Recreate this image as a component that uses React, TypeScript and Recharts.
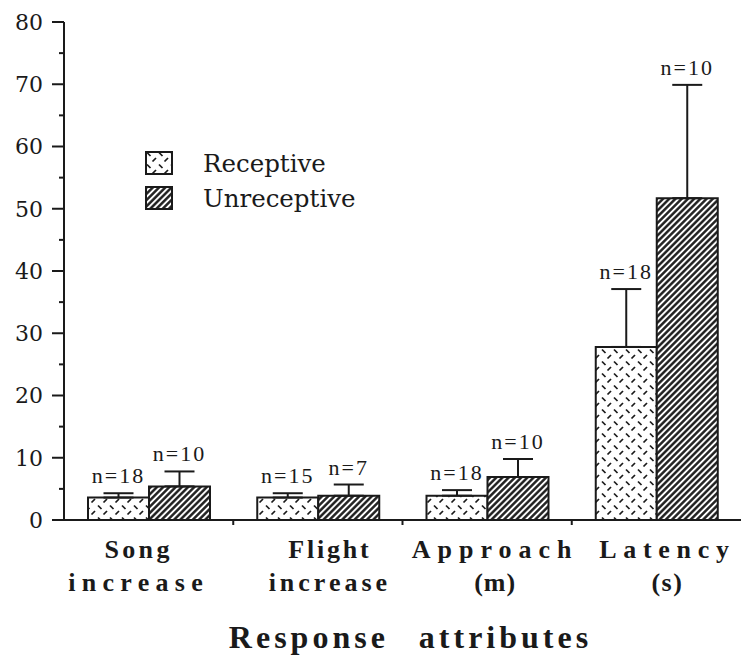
import { BarChart, Bar, XAxis, YAxis, ErrorBar, LabelList, Legend, Label } from 'recharts'

// values (means, upper error, sample size)
const categories = ['Song', 'Flight', 'Approach', 'Latency']
const categorySub = ['increase', 'increase', '(m)', '(s)']
const seriesNames = ['Receptive', 'Unreceptive']
const receptive = [3.6, 3.6, 3.9, 27.8]
const receptiveErr = [0.7, 0.7, 0.9, 9.3]
const receptiveN = [18, 15, 18, 18]
const unreceptive = [5.4, 3.9, 6.9, 51.7]
const unreceptiveErr = [2.4, 1.8, 2.9, 18.2]
const unreceptiveN = [10, 7, 10, 10]
const yTicks = [0, 5, 10, 15, 20, 25, 30, 35, 40, 45, 50, 55, 60, 65, 70, 75, 80]

const data = categories.map((name, i) => ({
  name,
  receptive: receptive[i],
  receptiveErr: [0, receptiveErr[i]],
  receptiveN: receptiveN[i],
  unreceptive: unreceptive[i],
  unreceptiveErr: [0, unreceptiveErr[i]],
  unreceptiveN: unreceptiveN[i],
}))

const INK = '#1a1a1a'
const times = 'Liberation Serif'
const book = 'DejaVu Serif'
const fills = ['url(#dashes)', 'url(#hatch)']

// typesetting quirks of the scanned labels
const line1Spacing = [3.3, 2.8, 7, 6.7]
const line2Spacing = [6.3, 4, 1, 1.5]
const labelDx = [-10, 12, 8, 11]

function YTick({ x, y, payload }: any) {
  const major = payload.value % 10 === 0
  return (
    <g>
      <line x1={x - (major ? 12 : 5)} x2={x} y1={y} y2={y} stroke={INK} strokeWidth={2} />
      {major && (
        <text x={x - 21} y={y} dy="0.36em" textAnchor="end" style={{ fontFamily: book, fontSize: 22 }} fill={INK}>
          {payload.value}
        </text>
      )}
    </g>
  )
}

function XTick({ x, y, payload, index }: any) {
  const band = 677 / categories.length
  const cx = x + labelDx[index]
  return (
    <g>
      {index > 0 && <line x1={x - band / 2} x2={x - band / 2} y1={y} y2={y + 5} stroke={INK} strokeWidth={2} />}
      <text x={cx} y={y + 38} textAnchor="middle" fill={INK}
        style={{ fontFamily: times, fontWeight: 'bold', fontSize: 26, letterSpacing: line1Spacing[index] }}>
        {payload.value}
      </text>
      <text x={cx} y={y + 71} textAnchor="middle" fill={INK}
        style={{ fontFamily: times, fontWeight: 'bold', fontSize: 26, letterSpacing: line2Spacing[index] }}>
        {categorySub[index]}
      </text>
    </g>
  )
}

const nLabel = (vals: number[], errs: number[]) => (p: any) => {
  const { x, y, width, height, value, index } = p
  const capY = y - errs[index] * (height / vals[index])
  return (
    <text x={x + width / 2} y={capY - 10} textAnchor="middle" fill={INK}
      style={{ fontFamily: times, fontSize: 22, letterSpacing: 2 }}>
      n={value}
    </text>
  )
}

const TitleLabel = (p: any) => {
  const { x, y, width } = p.viewBox
  return (
    <text x={x + width / 2 + 8} y={y + 128} textAnchor="middle" fill={INK}
      style={{ fontFamily: times, fontWeight: 'bold', fontSize: 32, letterSpacing: 4, wordSpacing: 18 }}>
      Response attributes
    </text>
  )
}

function LegendBox() {
  return (
    <div style={{ display: 'flex', flexDirection: 'column', gap: 11 }}>
      {seriesNames.map((n, i) => (
        <div key={n} style={{ display: 'flex', alignItems: 'center', height: 24 }}>
          <svg width={28} height={24}>
            <rect x={1} y={1} width={26} height={22} fill={fills[i]} stroke={INK} strokeWidth={2} />
          </svg>
          <span style={{ marginLeft: 30, fontFamily: book, fontSize: 24.5, color: INK }}>{n}</span>
        </div>
      ))}
    </div>
  )
}

export default function App() {
  return (
    <div style={{ position: 'absolute', left: 0, top: 0, width: 741, height: 659, background: '#fff' }}>
      <svg width={0} height={0} style={{ position: 'absolute' }}>
        <defs>
          <pattern id="hatch" patternUnits="userSpaceOnUse" width={4.4} height={4.4} patternTransform="rotate(45)">
            <rect width={4.4} height={4.4} fill="#fff" />
            <line x1={2.2} y1={0} x2={2.2} y2={4.4} stroke={INK} strokeWidth={2.4} />
          </pattern>
          <pattern id="dashes" patternUnits="userSpaceOnUse" width={12} height={12}>
            <rect width={12} height={12} fill="#fff" />
            <line x1={2} y1={1.5} x2={5.5} y2={5} stroke={INK} strokeWidth={1.7} />
            <line x1={7.5} y1={10.5} x2={11} y2={7} stroke={INK} strokeWidth={1.7} />
          </pattern>
        </defs>
      </svg>
      <BarChart width={741} height={659} data={data} margin={{ top: 22, right: 0, bottom: 0, left: 0 }}
        barGap={0}>
        <YAxis type="number" domain={[0, 80]} ticks={yTicks} interval={0} width={64}
          axisLine={{ stroke: INK, strokeWidth: 2 }} tickLine={false} tickSize={0} tickMargin={0}
          tick={<YTick />} />
        <XAxis dataKey="name" height={139} interval={0} axisLine={{ stroke: INK, strokeWidth: 2 }}
          tickLine={false} tickSize={0} tickMargin={0} tick={<XTick />}>
          <Label content={TitleLabel} />
        </XAxis>
        <Legend layout="vertical" align="center" verticalAlign="middle" content={<LegendBox />}
          wrapperStyle={{ left: 145, top: 151, width: 260 }} />
        <Bar dataKey="receptive" name={seriesNames[0]} fill={fills[0]} stroke={INK} strokeWidth={2}
          barSize={61} isAnimationActive={false}>
          <ErrorBar dataKey="receptiveErr" direction="y" width={15} stroke={INK} strokeWidth={2} />
          <LabelList dataKey="receptiveN" content={nLabel(receptive, receptiveErr)} />
        </Bar>
        <Bar dataKey="unreceptive" name={seriesNames[1]} fill={fills[1]} stroke={INK} strokeWidth={2}
          barSize={61} isAnimationActive={false}>
          <ErrorBar dataKey="unreceptiveErr" direction="y" width={15} stroke={INK} strokeWidth={2} />
          <LabelList dataKey="unreceptiveN" content={nLabel(unreceptive, unreceptiveErr)} />
        </Bar>
      </BarChart>
    </div>
  )
}
